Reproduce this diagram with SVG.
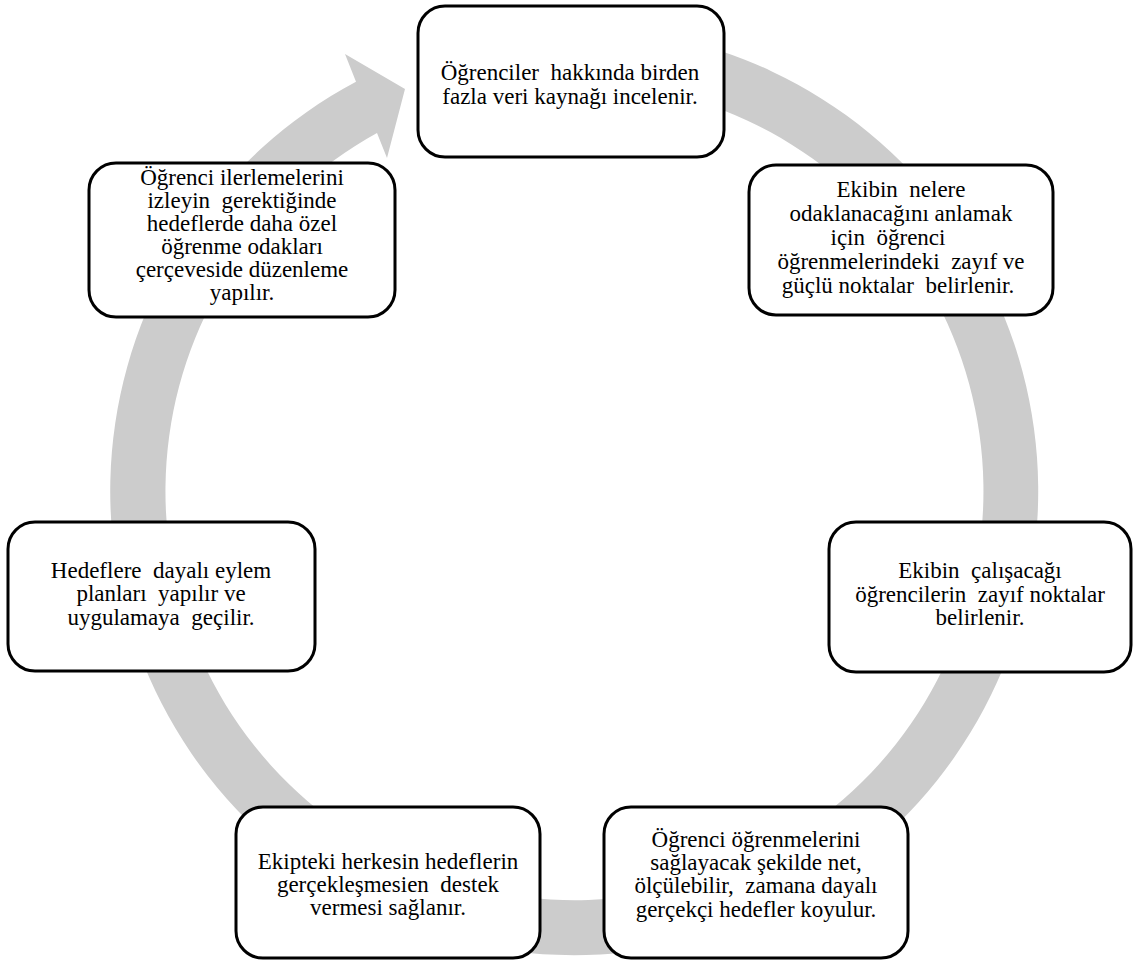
<svg xmlns="http://www.w3.org/2000/svg" width="1134" height="963" viewBox="0 0 1134 963" xml:space="preserve">
<style>
.box{fill:#fff;stroke:#000;stroke-width:3}
.t{font-family:"Liberation Serif","Times New Roman","DejaVu Serif",serif;font-size:23px;fill:#000;text-anchor:middle;white-space:pre}
.ring{fill:#cccccc;stroke:none}
</style>
<rect width="1134" height="963" fill="#fff"/>
<g id="connectors"><path class="ring" d="M489.4 35 A464 464 0 1 1 356 81.7 L345 54 L405 89 L387 158 L377 133 A409 409 0 1 0 499 89.2 Z"/></g>
<g id="node1"><rect class="box" x="418" y="6" width="306" height="151" rx="27"/><text class="t" x="570" y="80">Öğrenciler  hakkında birden</text><text class="t" x="570" y="104">fazla veri kaynağı incelenir.</text></g>
<g id="node2"><rect class="box" x="749" y="165" width="304" height="150" rx="27"/><text class="t" x="901" y="197">Ekibin  nelere</text><text class="t" x="901" y="221">odaklanacağını anlamak</text><text class="t" x="888" y="245">için  öğrenci</text><text class="t" x="901" y="269">öğrenmelerindeki  zayıf ve</text><text class="t" x="898" y="293">güçlü noktalar  belirlenir.</text></g>
<g id="node3"><rect class="box" x="829" y="522" width="302" height="150" rx="27"/><text class="t" x="980" y="578">Ekibin  çalışacağı</text><text class="t" x="980" y="602">öğrencilerin  zayıf noktalar</text><text class="t" x="980" y="625">belirlenir.</text></g>
<g id="node4"><rect class="box" x="604" y="807" width="304" height="151" rx="27"/><text class="t" x="756" y="847">Öğrenci öğrenmelerini</text><text class="t" x="756" y="870">sağlayacak şekilde net,</text><text class="t" x="756" y="893">ölçülebilir,  zamana dayalı</text><text class="t" x="756" y="917">gerçekçi hedefler koyulur.</text></g>
<g id="node5"><rect class="box" x="236" y="807" width="304" height="151" rx="27"/><text class="t" x="388" y="869">Ekipteki herkesin hedeflerin</text><text class="t" x="388" y="892">gerçekleşmesien  destek</text><text class="t" x="388" y="915">vermesi sağlanır.</text></g>
<g id="node6"><rect class="box" x="8" y="522" width="307" height="149" rx="27"/><text class="t" x="161" y="578">Hedeflere  dayalı eylem</text><text class="t" x="161" y="601">planları  yapılır ve</text><text class="t" x="161" y="625">uygulamaya  geçilir.</text></g>
<g id="node7"><rect class="box" x="89" y="163" width="306" height="154" rx="27"/><text class="t" x="242" y="185">Öğrenci ilerlemelerini</text><text class="t" x="242" y="208">izleyin  gerektiğinde</text><text class="t" x="242" y="231">hedeflerde daha özel</text><text class="t" x="242" y="254">öğrenme odakları</text><text class="t" x="242" y="277">çerçeveside düzenleme</text><text class="t" x="242" y="300">yapılır.</text></g>
</svg>
